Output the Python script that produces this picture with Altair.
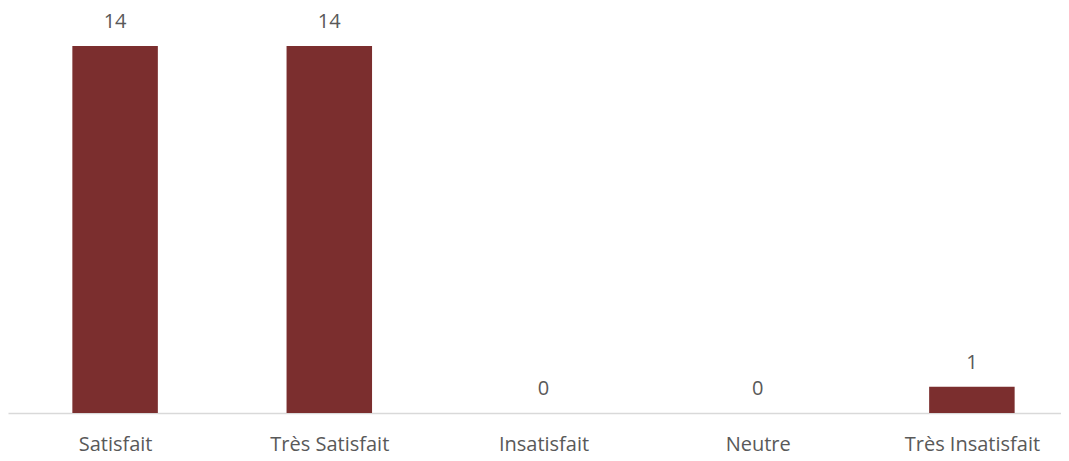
import altair as alt
import pandas as pd

categories = ["Satisfait", "Très Satisfait", "Insatisfait", "Neutre", "Très Insatisfait"]
values = [14, 14, 0, 0, 1]

df = pd.DataFrame({"idx": list(range(len(categories))), "cat": categories, "val": values})

FONT = "Open Sans"
TXT = "#595959"

label_expr = "[" + ",".join("'" + c + "'" for c in categories) + "][datum.value]"

x = alt.X("idx:Q", title=None,
          scale=alt.Scale(domain=[-0.5, 4.416], nice=False, zero=False, padding=0),
          axis=alt.Axis(values=list(range(len(categories))), labelExpr=label_expr,
                        labelAngle=0, ticks=False, tickSize=0, domainColor="#D9D9D9",
                        domainWidth=1.5, labelPadding=37, labelBaseline="alphabetic",
                        labelFont=FONT, labelFontSize=20, labelColor=TXT, grid=False,
                        labelOverlap=False, labelFlush=False))
y = alt.Y("val:Q", scale=alt.Scale(domain=[0, 15.45], nice=False, padding=0), axis=None)

bars = alt.Chart(df).mark_bar(color="#7B2E2E", size=85.5).encode(x=x, y=y)
labels = alt.Chart(df).mark_text(font=FONT, fontSize=20, color=TXT, baseline="alphabetic",
                                 dy=-18).encode(x=x, y=y, text="val:Q")

chart = (bars + labels).properties(
    width=1053, height=405,
    autosize=alt.AutoSizeParams(type="none"),
    padding={"left": 0, "right": 0, "top": 0, "bottom": 38},
).configure(background="white").configure_view(stroke=None)

chart.save("out.html", embed_options={"renderer": "svg", "actions": False})
